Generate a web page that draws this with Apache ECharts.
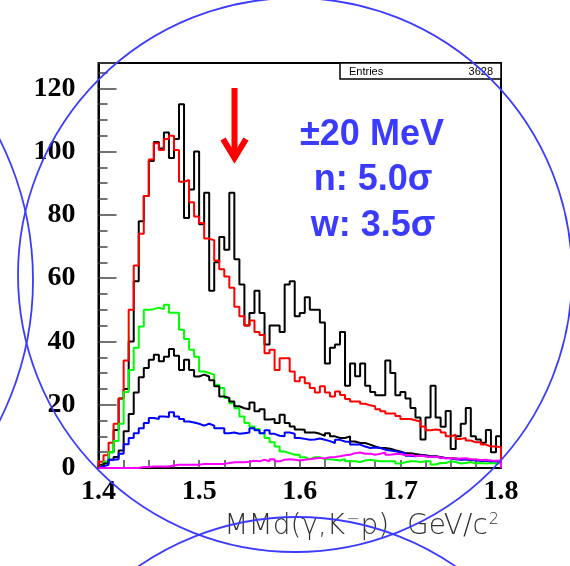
<!DOCTYPE html>
<html>
<head>
<meta charset="utf-8">
<script src="https://cdn.jsdelivr.net/npm/echarts@6/dist/echarts.min.js"></script>
<style>html,body{margin:0;padding:0;background:#fff;}#c{width:570px;height:566px;}</style>
</head>
<body>
<div id="c"></div>
<script>
// ---- data (bin contents, 80 bins of 5 MeV from 1.4 to 1.8 GeV) ----
const binStart = 1.4;
const binWidth = 0.005;
const xTicks = ['1.4', '1.5', '1.6', '1.7', '1.8'];
const yTicks = [0, 20, 40, 60, 80, 100, 120];

const blackTotal = [1, 2, 5, 12, 22, 25, 40, 59, 78, 86,
  97, 103, 101, 106, 98, 104, 115, 79, 88, 100,
  77, 87, 56, 65, 73, 69, 87, 66, 58, 45,
  49, 56, 49, 39, 45, 45, 43, 58, 59, 48,
  49, 54, 50, 50, 46, 33, 38, 39, 43, 26,
  33, 29, 33, 26, 24, 23, 23, 34, 30, 23,
  24, 22, 19, 16, 9, 16, 26, 16, 13, 18,
  6, 10, 14, 19, 10, 9, 8, 12, 5, 10];

const redSum = [2, 4, 8, 14, 22, 34, 50, 64, 74, 86,
  97.5, 102.6, 100.5, 104, 105, 100.5, 90.5, 91, 84, 79.5,
  77.4, 72.5, 72, 65.6, 62.8, 60.5, 57, 51, 48, 45,
  46.6, 43, 42, 36.3, 37.4, 31, 34.7, 34.7, 30.5, 27.4,
  28.7, 26.8, 25.3, 23.9, 25.8, 23.9, 22.6, 24.2, 23.1, 21.8,
  21, 21, 20.3, 19.8, 19.5, 18.6, 17.9, 17.2, 17.2, 16.4,
  15.5, 15.5, 15.1, 14.7, 13.1, 11.9, 12.2, 12, 11.2, 10,
  10.5, 9.2, 9.5, 8.7, 8.1, 8.1, 7.4, 6.8, 6.8, 6.6];

const greenComp = [0.5, 2, 5, 8.5, 14, 24, 31, 38, 44.7, 50,
  50.2, 50.7, 50.2, 51.6, 49.1, 49.1, 43.7, 40.8, 37.4, 35.2,
  30.5, 30, 29.5, 26.3, 25.3, 22.1, 20.5, 18.9, 16.3, 14.2,
  13.1, 12.3, 11, 9.5, 8.1, 6.8, 5.2, 4.7, 4.2, 4.2,
  3.4, 2.8, 3.4, 3.4, 2.8, 2.8, 2.6, 2.4, 2.8, 2.1,
  2.1, 1.9, 2.4, 2.6, 2.4, 2.1, 2.1, 2.1, 2.1, 1.4,
  1.8, 2.1, 2.1, 1.9, 2.1, 2.1, 1.1, 1.6, 1.6, 2.1,
  1.9, 1.4, 1.6, 1.9, 1.4, 1.6, 1.4, 1.6, 1.4, 1.4];

const blackComp = [0.5, 1.4, 2.6, 3.5, 5.5, 11.6, 17.1, 23.9, 28.7, 31.6,
  34.2, 35.8, 33.7, 35.2, 37.6, 35.5, 31, 34.2, 31, 28.9,
  29.5, 28.9, 27.7, 25.8, 22.6, 22.1, 21, 19.5, 18.9, 18.6,
  20.7, 17.9, 18.6, 15.3, 15.5, 14.2, 16.8, 14.2, 13.1, 12.2,
  12.1, 11.2, 11.2, 10.8, 10.2, 11, 10, 9.5, 9.5, 10,
  8.4, 7.9, 7.9, 7.4, 6.8, 6.3, 6.3, 6.1, 5.6, 5.2,
  4.7, 4.7, 4.4, 4.2, 4.0, 3.7, 3.7, 3.5, 3.2, 3.2,
  3.0, 2.8, 2.8, 2.6, 2.6, 2.4, 2.3, 2.3, 2.1, 2.0];

const blueComp = [0.5, 1, 2.6, 2.8, 4.5, 7.5, 9.5, 11, 12.6, 14.2,
  15.8, 15.5, 16.3, 16.1, 17.6, 16.3, 15.5, 14.7, 14.4, 14,
  13.4, 14, 13.4, 12.6, 12.6, 11, 11.2, 10.8, 11, 11.2,
  12.6, 11.9, 11, 11.9, 10.8, 10.2, 10, 11.2, 10.8, 9.5,
  9.2, 8.9, 9, 9.3, 8.9, 8.5, 7.9, 8.9, 8.4, 8.2,
  7.4, 7.4, 6.8, 6.3, 6.5, 6.3, 5.8, 5.5, 5.3, 5,
  4.7, 3.9, 3.7, 4, 3.7, 3.5, 3.7, 3.2, 3.2, 3,
  2.8, 2.6, 2.8, 2.6, 2.4, 2.3, 2.3, 2.1, 2.1, 2.1];

const magentaComp = [0, 0, 0, 0, 0, 0, 0, 0, 0.3, 0.3,
  0.5, 0.5, 0.5, 0.5, 0.8, 1, 1, 1, 1, 1,
  1.3, 1.3, 1.3, 1.3, 1.3, 1.6, 1.8, 1.8, 1.8, 2,
  2.3, 2.1, 2.6, 2.1, 2.8, 2.1, 2.6, 2.8, 2.6, 2.4,
  2.6, 2.8, 3, 3.2, 3, 3.4, 3.5, 3.7, 4, 4.2,
  4.7, 4.9, 4.5, 4.5, 4.2, 4.5, 4.9, 4.2, 4.4, 4.4,
  4, 4.2, 3.8, 3.9, 3.7, 3.5, 3.6, 3.3, 3, 3.2,
  2.9, 3, 3.1, 2.8, 2.7, 2.5, 2.6, 2.4, 2.3, 2.4];

const entries = 3628;
const annotation = ['\u00B120 MeV', 'n: 5.0\u03C3', 'w: 3.5\u03C3'];
const xTitle = 'MMd(\u03B3,K{s|\u2212}p)  GeV/c{s|2}';

// ---- build histogram outlines ----
function histPoints(vals) {
  const pts = [[binStart, 0]];
  vals.forEach((v, i) => pts.push([+(binStart + i * binWidth).toFixed(4), v]));
  const xEnd = +(binStart + vals.length * binWidth).toFixed(4);
  pts.push([xEnd, vals[vals.length - 1]]);
  pts.push([xEnd, 0]);
  return pts;
}
function histSeries(name, vals, color, z) {
  return {
    name, type: 'line', step: 'end', data: histPoints(vals),
    showSymbol: false, symbol: 'none', z: z,
    lineStyle: { color, width: 2 }, animation: false, silent: true
  };
}

const chart = echarts.init(document.getElementById('c'), null, { renderer: 'canvas' });
const blue = '#3b3bff';
chart.setOption({
  backgroundColor: '#ffffff',
  animation: false,
  grid: { left: 98.5, right: 69, top: 63, bottom: 98, show: true, borderColor: '#000', borderWidth: 2,
          containLabel: false, outerBoundsMode: 'none' },
  xAxis: {
    type: 'value', min: 1.4, max: 1.8, interval: 0.1,
    axisLine: { show: true, onZero: false, lineStyle: { color: '#000', width: 2 } },
    axisTick: { show: true, inside: true, length: 8, lineStyle: { color: '#444', width: 1.5 } },
    minorTick: { show: true, splitNumber: 4, length: 8, lineStyle: { color: '#444', width: 1.5 } },
    splitLine: { show: false },
    axisLabel: {
      margin: 10, color: '#000', fontFamily: 'Liberation Serif', fontWeight: 'bold', fontSize: 28,
      formatter: v => { const s = v.toFixed(1); return xTicks.includes(s) ? s : ''; }
    }
  },
  yAxis: {
    type: 'value', min: 0, max: 128, interval: 20,
    axisLine: { show: true, lineStyle: { color: '#000', width: 2 } },
    axisTick: { show: true, inside: true, length: 18, lineStyle: { color: '#444', width: 1.5 } },
    minorTick: { show: true, splitNumber: 4, length: 9, lineStyle: { color: '#444', width: 1.5 } },
    splitLine: { show: false },
    axisLabel: {
      margin: 23, color: '#000', fontFamily: 'Liberation Serif', fontWeight: 'bold', fontSize: 28,
      formatter: v => (yTicks.includes(v) ? String(v) : '')
    }
  },
  series: [
    histSeries('total', blackTotal, '#000000', 2),
    histSeries('sum', redSum, '#ff0000', 3),
    histSeries('green', greenComp, '#00ff00', 4),
    histSeries('black', blackComp, '#000000', 5),
    histSeries('blue', blueComp, '#0000ff', 6),
    histSeries('magenta', magentaComp, '#ff00ff', 7)
  ],
  graphic: [
    // stats box
    { type: 'rect', z: 20, shape: { x: 340, y: 63, width: 161, height: 16 },
      style: { fill: '#fff', stroke: '#000', lineWidth: 1.5 } },
    { type: 'text', z: 21, style: { x: 349, y: 71.5, text: 'Entries', fill: '#000',
      font: '11px "Liberation Sans"', verticalAlign: 'middle', textAlign: 'left' } },
    { type: 'text', z: 21, style: { x: 493, y: 71.5, text: String(entries), fill: '#000',
      font: '11px "Liberation Sans"', verticalAlign: 'middle', textAlign: 'right' } },
    // annotation text
    { type: 'text', z: 21, style: { x: 372, y: 135, text: annotation[0], fill: blue,
      font: 'bold 36px "Liberation Sans"', verticalAlign: 'middle', textAlign: 'center' } },
    { type: 'text', z: 21, style: { x: 373, y: 180, text: annotation[1], fill: blue,
      font: 'bold 36px "Liberation Sans"', verticalAlign: 'middle', textAlign: 'center' } },
    { type: 'text', z: 21, style: { x: 373, y: 226, text: annotation[2], fill: blue,
      font: 'bold 36px "Liberation Sans"', verticalAlign: 'middle', textAlign: 'center' } },
    // red arrow
    { type: 'line', z: 22, shape: { x1: 234.5, y1: 88, x2: 234.5, y2: 157 },
      style: { stroke: '#ff0000', lineWidth: 6 } },
    { type: 'polyline', z: 22, shape: { points: [[223, 139], [234.5, 158], [246, 139]] },
      style: { stroke: '#ff0000', lineWidth: 6, fill: null, lineJoin: 'miter' } },
    // x title
    { type: 'text', z: 21, style: { x: 500, y: 512, text: xTitle, fill: '#333',
      font: '200 28px "DejaVu Sans"', verticalAlign: 'top', textAlign: 'right',
      rich: { s: { font: '200 16px "DejaVu Sans"', fill: '#333', verticalAlign: 'top', padding: [0, 1, 14, 1] } } } },
    // blue hand-drawn circles
    { type: 'circle', z: 30, shape: { cx: 295, cy: 275, r: 277 },
      style: { fill: null, stroke: blue, lineWidth: 1.8 } },
    { type: 'circle', z: 30, shape: { cx: -280, cy: 280, r: 313 },
      style: { fill: null, stroke: blue, lineWidth: 1.8 } },
    { type: 'circle', z: 30, shape: { cx: 297, cy: 796, r: 279 },
      style: { fill: null, stroke: blue, lineWidth: 1.8 } }
  ]
});
</script>
</body>
</html>
